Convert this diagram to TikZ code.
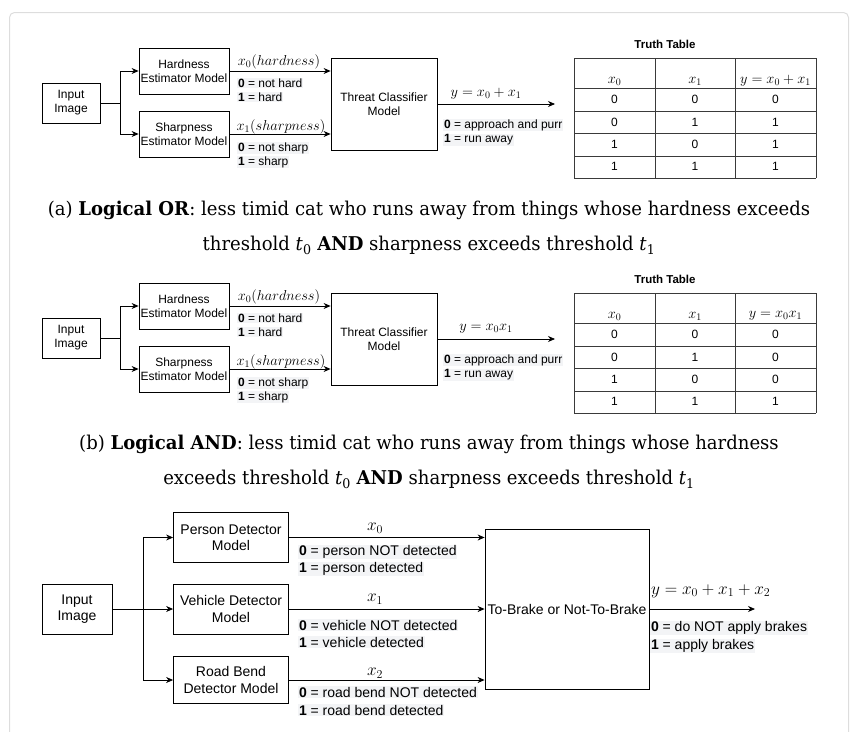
\documentclass[tikz,border=0pt]{standalone}
\usepackage{fontspec}
\setsansfont{Liberation Sans}
\newfontfamily\capfont[FakeStretch=0.95]{DejaVu Serif}
\usetikzlibrary{arrows.meta,positioning,calc}
\definecolor{framegray}{HTML}{DDDDDD}
\definecolor{tablegray}{HTML}{3A3A3A}
\definecolor{hilite}{HTML}{F3F4F6}
\tikzset{
	box/.style={draw=black, line width=0.8pt, fill=white, align=center, inner sep=0pt, font=\sffamily\fontsize{12}{14}\selectfont},
	bigbox/.style={box, font=\sffamily\fontsize{14}{16.5}\selectfont},
	lbl/.style={anchor=west, inner sep=0.8pt, fill=hilite, font=\sffamily\fontsize{12}{14}\selectfont},
	biglbl/.style={lbl, font=\sffamily\fontsize{14}{16}\selectfont},
	mlbl/.style={inner sep=0pt, font=\fontsize{14.5}{16}\selectfont},
	bigmlbl/.style={inner sep=0pt, font=\fontsize{17}{19}\selectfont},
	cell/.style={inner sep=0pt, font=\sffamily\fontsize{12}{14}\selectfont},
	flow/.style={line width=0.8pt, -{Stealth[length=7pt,width=6pt]}},
	wire/.style={line width=0.8pt},
	tline/.style={draw=tablegray, line width=0.9pt},
	caption/.style={align=center, inner sep=0pt, font=\capfont\fontsize{19}{35.5}\selectfont},
}
\begin{document}
\begin{tikzpicture}[x=1pt,y=-1pt]
	\useasboundingbox (0,0) rectangle (856,731);
	\draw[framegray, line width=1pt, rounded corners=5pt] (9.5,760) -- (9.5,12.5) -- (848.5,12.5) -- (848.5,760);
	% panels (a) and (b)
	\foreach \p/\dy/\ylab/\cells in {a/0/{y=x_0+x_1}/{0/0/0,0/1/1,1/0/1,1/1/1}, b/235/{y=x_0x_1}/{0/0/0,0/1/0,1/0/0,1/1/1}}
	{
		\begin{scope}[yshift=-\dy pt]
			\node[box, minimum width=58pt, minimum height=40pt] (in\p) at (71,103) {Input\\Image};
			\node[box, minimum width=90pt, minimum height=46pt] (hard\p) at (184,71) {Hardness\\Estimator Model};
			\node[box, minimum width=90pt, minimum height=46pt] (sharp\p) at (184,134) {Sharpness\\Estimator Model};
			\node[box, minimum width=106pt, minimum height=92pt] (threat\p) at (384,104) {Threat Classifier\\Model};
			\coordinate (split\p) at (120,103);
			\coordinate (out\p) at (555,104);
			\draw[wire] (in\p) -- (split\p);
			\draw[flow] (split\p) |- (hard\p);
			\draw[flow] (split\p) |- (sharp\p);
			\draw[flow] (hard\p) -- (hard\p -| threat\p.west);
			\draw[flow] (sharp\p) -- (sharp\p -| threat\p.west);
			\draw[flow] (threat\p) -- (out\p);
			\node[mlbl] (xh\p) at (279,62) {$x_0(hardness)$};
			\node[lbl] (h0\p) at (237,83) {\textbf{0} = not hard};
			\node[lbl] (h1\p) at (237,97) {\textbf{1} = hard};
			\node[mlbl] (xs\p) at (281,127) {$x_1(sharpness)$};
			\node[lbl] (s0\p) at (237,148) {\textbf{0} = not sharp};
			\node[lbl] (s1\p) at (237,162) {\textbf{1} = sharp};
			\node[mlbl] (y\p) at (486,94) {$\ylab$};
			\node[lbl] (o0\p) at (443,125) {\textbf{0} = approach and purr};
			\node[lbl] (o1\p) at (443,140) {\textbf{1} = run away};
			% truth table
			\node[cell, font=\sffamily\bfseries\fontsize{11.5}{13}\selectfont] (tt\p) at (665,44) {Truth Table};
			\foreach \x in {574,655,735,816}
				\draw[tline] (\x,58) -- (\x,178);
			\foreach \y in {58,88,111,133,156,178}
				\draw[tline] (574,\y) -- (816,\y);
			\node[mlbl] (hx0\p) at (614.5,81) {$x_0$};
			\node[mlbl] (hx1\p) at (695,81) {$x_1$};
			\node[mlbl] (hy\p) at (775.5,81) {$\ylab$};
			\foreach \u/\v/\w [count=\r] in \cells
			{
				\node[cell] (c\p-\r-0) at (614.5,{77.2+22.4*\r}) {\u};
				\node[cell] (c\p-\r-1) at (695,{77.2+22.4*\r}) {\v};
				\node[cell] (c\p-\r-2) at (775.5,{77.2+22.4*\r}) {\w};
			}
		\end{scope}
	}
	\node[caption] (capa) at (429,228) {(a) \textbf{Logical OR}: less timid cat who runs away from things whose hardness exceeds\\threshold \textit{t}\textsubscript{0} \textbf{AND} sharpness exceeds threshold \textit{t}\textsubscript{1}};
	\node[caption] (capb) at (429,462) {(b) \textbf{Logical AND}: less timid cat who runs away from things whose hardness\\exceeds threshold \textit{t}\textsubscript{0} \textbf{AND} sharpness exceeds threshold \textit{t}\textsubscript{1}};
	% panel (c)
	\node[bigbox, minimum width=70pt, minimum height=50pt] (inc) at (77,609) {Input\\Image};
	\node[bigbox, minimum width=115pt, minimum height=50pt] (person) at (231,537.5) {Person Detector\\Model};
	\node[bigbox, minimum width=115pt, minimum height=50pt] (vehicle) at (231,609) {Vehicle Detector\\Model};
	\node[bigbox, minimum width=115pt, minimum height=47pt] (bend) at (231,680) {Road Bend\\Detector Model};
	\node[bigbox, minimum width=164pt, minimum height=160pt] (brake) at (567,609) {To-Brake or Not-To-Brake};
	\coordinate (splitc) at (143,609);
	\coordinate (outc) at (755,609);
	\draw[wire] (inc) -- (splitc);
	\draw[flow] (splitc) |- (person);
	\draw[flow] (splitc) -- (vehicle);
	\draw[flow] (splitc) |- (bend);
	\draw[flow] (person) -- (person -| brake.west);
	\draw[flow] (vehicle) -- (vehicle -| brake.west);
	\draw[flow] (bend) -- (bend -| brake.west);
	\draw[flow] (brake) -- (outc);
	\node[bigmlbl] (x0c) at (375,528) {$x_0$};
	\node[biglbl] (p0) at (298,552) {\textbf{0} = person NOT detected};
	\node[biglbl] (p1) at (298,569) {\textbf{1} = person detected};
	\node[bigmlbl] (x1c) at (375,599) {$x_1$};
	\node[biglbl] (v0) at (298,625) {\textbf{0} = vehicle NOT detected};
	\node[biglbl] (v1) at (298,642) {\textbf{1} = vehicle detected};
	\node[bigmlbl] (x2c) at (375,673) {$x_2$};
	\node[biglbl] (b0) at (298,692) {\textbf{0} = road bend NOT detected};
	\node[biglbl] (b1) at (298,710) {\textbf{1} = road bend detected};
	\node[bigmlbl, anchor=west] (yc) at (651,591) {$y=x_0+x_1+x_2$};
	\node[biglbl] (r0) at (650,628) {\textbf{0} = do NOT apply brakes};
	\node[biglbl] (r1) at (650,646) {\textbf{1} = apply brakes};
\end{tikzpicture}
\end{document}
